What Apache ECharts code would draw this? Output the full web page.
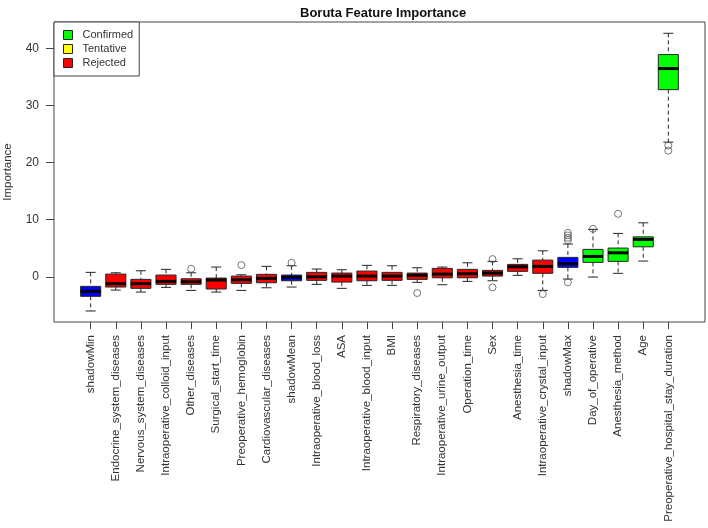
<!DOCTYPE html>
<html>
<head>
<meta charset="utf-8">
<script src="https://cdn.jsdelivr.net/npm/echarts@6/dist/echarts.min.js"></script>
<style>
html, body { margin: 0; padding: 0; background: #ffffff; }
#chart { width: 708px; height: 528px; }
</style>
</head>
<body>
<div id="chart"></div>
<script>
/*----- data -----*/
var features = ['shadowMin', 'Endocrine_system_diseases', 'Nervous_system_diseases', 'Intraoperative_colloid_input',
	'Other_diseases', 'Surgical_start_time', 'Preoperative_hemoglobin', 'Cardiovascular_diseases', 'shadowMean',
	'Intraoperative_blood_loss', 'ASA', 'Intraoperative_blood_input', 'BMI', 'Respiratory_diseases',
	'Intraoperative_urine_output', 'Operation_time', 'Sex', 'Anesthesia_time', 'Intraoperative_crystal_input',
	'shadowMax', 'Day_of_operative', 'Anesthesia_method', 'Age', 'Preoperative_hospital_stay_duration'];
var decision = ['Shadow', 'Rejected', 'Rejected', 'Rejected', 'Rejected', 'Rejected', 'Rejected', 'Rejected', 'Shadow',
	'Rejected', 'Rejected', 'Rejected', 'Rejected', 'Rejected', 'Rejected', 'Rejected', 'Rejected', 'Rejected', 'Rejected',
	'Shadow', 'Confirmed', 'Confirmed', 'Confirmed', 'Confirmed'];
var lowerWhisker = [-6.0, -2.33, -2.68, -1.86, -2.39, -2.68, -2.39, -1.93, -1.8, -1.33, -2.03, -1.51,
	-1.51, -0.98, -1.4, -0.81, -0.7, 0.25, -2.39, -0.4, -0.05, 0.6, 2.75, 23.6];
var q1 = [-3.43, -1.8, -2.03, -1.33, -1.33, -2.15, -1.16, -1.05, -0.7, -0.63, -0.93, -0.7,
	-0.63, -0.46, -0.18, -0.18, 0.12, 0.95, 0.6, 1.65, 2.52, 2.7, 5.25, 32.8];
var median = [-2.56, -1.22, -1.22, -0.81, -0.87, -0.58, -0.53, -0.28, -0.1, 0, 0.12, 0.12,
	0.12, 0.25, 0.47, 0.53, 0.65, 1.75, 1.82, 2.28, 3.57, 4.2, 6.55, 36.5];
var q3 = [-1.68, 0.47, -0.46, 0.3, -0.35, -0.23, 0.12, 0.42, 0.3, 0.77, 0.65, 1.0,
	0.77, 0.65, 1.47, 1.3, 1.12, 2.17, 2.92, 3.4, 4.8, 5.03, 7.0, 38.95];
var upperWhisker = [0.77, 0.7, 1.05, 1.3, 0.7, 1.7, 0.35, 1.82, 1.93, 1.35, 1.23, 2.0,
	1.93, 1.58, 1.7, 2.45, 2.7, 3.15, 4.55, 5.73, 8.3, 7.6, 9.46, 42.68];
// [feature index, value]
var outliers = [[4, 1.4], [6, 2.05], [8, 2.45], [13, -2.85], [16, 3.1], [16, -1.86], [18, -3.03],
	[19, 6.43], [19, 6.83], [19, 7.25], [19, 7.7], [19, -0.98], [20, 8.4], [21, 11.03], [23, 23.0], [23, 22.1]];
var yTicks = [0, 10, 20, 30, 40];
var legendNames = ['Confirmed', 'Tentative', 'Rejected'];

var colors = {
	Confirmed: '#00ff00',
	Tentative: '#ffff00',
	Rejected: '#ff0000',
	Shadow: '#0000ff'
};
var FONT = '"Liberation Sans", Arial, sans-serif';
var EDGE = '#262626';

/*----- box + whiskers drawn through the axes -----*/
function renderBox(params, api){
	var x = api.value(0);
	var lo = api.coord([x, api.value(1)]);
	var b1 = api.coord([x, api.value(2)]);
	var md = api.coord([x, api.value(3)]);
	var b3 = api.coord([x, api.value(4)]);
	var hi = api.coord([x, api.value(5)]);
	var bw = api.size([1, 0])[0] * 0.8;
	var cx = lo[0];
	var fill = api.visual('color');
	var dash = {stroke: EDGE, lineWidth: 1, lineDash: [4, 3]};
	var solid = {stroke: EDGE, lineWidth: 1};
	return {
		type: 'group',
		children: [
			{type: 'line', shape: {x1: cx, y1: hi[1], x2: cx, y2: b3[1]}, style: dash},
			{type: 'line', shape: {x1: cx, y1: b1[1], x2: cx, y2: lo[1]}, style: dash},
			{type: 'line', shape: {x1: cx - bw / 4, y1: hi[1], x2: cx + bw / 4, y2: hi[1]}, style: solid},
			{type: 'line', shape: {x1: cx - bw / 4, y1: lo[1], x2: cx + bw / 4, y2: lo[1]}, style: solid},
			{type: 'rect', shape: {x: cx - bw / 2, y: b3[1], width: bw, height: b1[1] - b3[1]},
				style: {fill: fill, stroke: EDGE, lineWidth: 1}},
			{type: 'line', shape: {x1: cx - bw / 2, y1: md[1], x2: cx + bw / 2, y2: md[1]},
				style: {stroke: '#000', lineWidth: 3}}
		]
	};
}

function boxData(kind){
	var list = [];
	for(var i = 0; i < features.length; i++){
		if(decision[i] === kind){
			list.push([i, lowerWhisker[i], q1[i], median[i], q3[i], upperWhisker[i]]);
		}
	}
	return list;
}

function boxSeries(kind){
	return {
		name: kind,
		type: 'custom',
		renderItem: renderBox,
		itemStyle: {color: colors[kind]},
		encode: {x: 0, y: [1, 2, 3, 4, 5]},
		data: boxData(kind),
		silent: true
	};
}

var option = {
	backgroundColor: '#ffffff',
	animation: false,
	textStyle: {fontFamily: FONT},
	title: {
		text: 'Boruta Feature Importance',
		left: 295,
		top: 2,
		textStyle: {fontFamily: FONT, fontSize: 13, fontWeight: 'bold', color: '#111'}
	},
	legend: {
		data: legendNames,
		orient: 'vertical',
		left: 54,
		top: 22,
		padding: [6, 6, 6, 9],
		itemGap: 0,
		itemWidth: 9,
		itemHeight: 9,
		icon: 'rect',
		selectedMode: false,
		borderColor: '#444',
		borderWidth: 1,
		backgroundColor: '#ffffff',
		itemStyle: {borderColor: EDGE, borderWidth: 1},
		textStyle: {fontFamily: FONT, fontSize: 11, color: '#333', lineHeight: 14, padding: [0, 0, 0, 5]}
	},
	grid: {
		left: 78.1,
		right: 27.1,
		top: 22,
		bottom: 206,
		outerBoundsMode: 'none',
		containLabel: false
	},
	xAxis: {
		type: 'category',
		data: features,
		boundaryGap: true,
		axisLine: {show: false, onZero: false},
		axisTick: {show: true, alignWithLabel: true, interval: 0, length: 7, lineStyle: {color: '#444'}},
		axisLabel: {interval: 0, rotate: 90, margin: 13, fontFamily: FONT, fontSize: 11.5, color: '#333'},
		splitLine: {show: false}
	},
	yAxis: {
		type: 'value',
		min: -7.93,
		max: 44.66,
		offset: 24.1,
		name: 'Importance',
		nameLocation: 'middle',
		nameGap: 40,
		nameRotate: 90,
		nameTextStyle: {fontFamily: FONT, fontSize: 11.5, color: '#333'},
		axisLine: {show: false},
		axisTick: {show: true, length: 8, customValues: yTicks, lineStyle: {color: '#444'}},
		axisLabel: {customValues: yTicks, margin: 15, fontFamily: FONT, fontSize: 12, color: '#333'},
		splitLine: {show: false}
	},
	graphic: [{
		type: 'rect',
		shape: {x: 54, y: 22, width: 651, height: 300},
		style: {fill: 'none', stroke: '#444', lineWidth: 1},
		z: 1
	}],
	series: [
		boxSeries('Shadow'),
		boxSeries('Rejected'),
		boxSeries('Confirmed'),
		boxSeries('Tentative'),
		{
			name: 'outliers',
			type: 'scatter',
			data: outliers,
			symbol: 'circle',
			symbolSize: 7,
			itemStyle: {color: 'rgba(255,255,255,0)', borderColor: '#555', borderWidth: 1},
			silent: true,
			z: 3
		}
	]
};
echarts.init(document.getElementById('chart')).setOption(option);
</script>
</body>
</html>
